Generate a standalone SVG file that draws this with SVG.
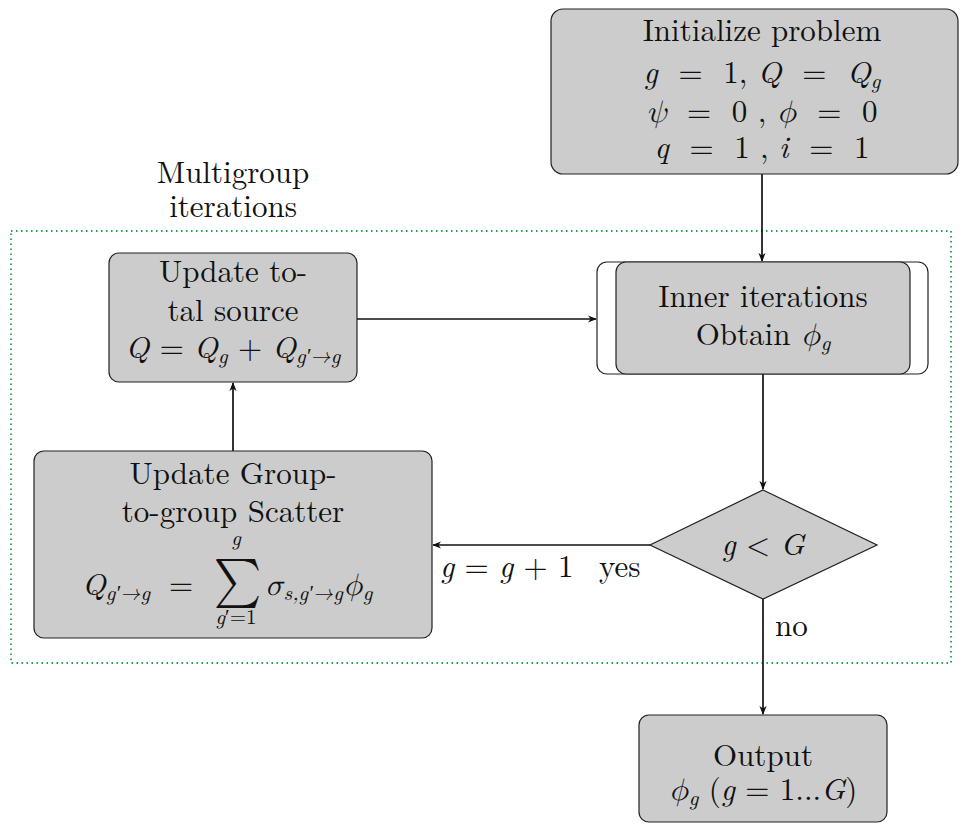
<svg xmlns="http://www.w3.org/2000/svg" width="964" height="825" viewBox="0 0 964 825" font-family="Latin Modern Roman, Liberation Serif, serif">
<defs>
<style>
.t{font-family:'Latin Modern Roman','Liberation Serif',serif;font-size:31px;fill:#111}
.m{text-anchor:middle}
.i{font-style:italic}
.gr{font-family:'Latin Modern Math','DejaVu Serif',serif;font-style:italic}
.s{font-size:21px;font-style:italic}
.sm{font-size:21px}
.box{fill:#cccccc;stroke:#222;stroke-width:1.2}
.c{fill:none;stroke:#111;stroke-width:1.7}
</style>
<marker id="ah" viewBox="0 0 10 10" refX="9" refY="5" markerWidth="9" markerHeight="9" orient="auto" markerUnits="userSpaceOnUse">
<path d="M0,1 L10,5 L0,9 L3,5 Z" fill="#111"/>
</marker>
</defs>
<rect x="0" y="0" width="964" height="825" fill="#fff"/>

<g id="multigroup">
<rect x="11" y="231" width="940" height="432" fill="none" stroke="#1aa352" stroke-width="1.8" stroke-dasharray="1.5,3.5"/>
<text class="t m" x="233" y="183">Multigroup</text>
<text class="t m" x="233" y="217">iterations</text>
</g>

<g id="connectors">
<line class="c" x1="762" y1="174" x2="762" y2="261" marker-end="url(#ah)"/>
<line class="c" x1="357" y1="319" x2="596" y2="319" marker-end="url(#ah)"/>
<line class="c" x1="763" y1="374" x2="763" y2="489" marker-end="url(#ah)"/>
<line class="c" x1="650" y1="545" x2="433" y2="545" marker-end="url(#ah)"/>
<line class="c" x1="233" y1="451" x2="233" y2="383" marker-end="url(#ah)"/>
<line class="c" x1="763" y1="599" x2="763" y2="714" marker-end="url(#ah)"/>
<text class="t" x="440" y="577"><tspan class="i">g</tspan> = <tspan class="i">g</tspan> + 1</text>
<text class="t" x="599" y="577">yes</text>
<text class="t" x="775" y="636">no</text>
</g>

<g id="init">
<rect class="box" x="551" y="9" width="407" height="165" rx="12"/>
<text class="t m" x="762" y="41">Initialize problem</text>
<text class="t m" x="762" y="83" xml:space="preserve"><tspan class="i">g</tspan>  =  1, <tspan class="i">Q</tspan>  =  <tspan class="i">Q</tspan><tspan class="s" dy="5">g</tspan></text>
<text class="t m" x="762" y="122" xml:space="preserve"><tspan class="gr">ψ</tspan>  =  0 , <tspan class="gr">ϕ</tspan>  =  0</text>
<text class="t m" x="762" y="158" xml:space="preserve"><tspan class="i">q</tspan>  =  1 , <tspan class="i">i</tspan>  =  1</text>
</g>

<g id="inner">
<rect x="597" y="262" width="331" height="112" rx="10" fill="#fff" stroke="#222" stroke-width="1.2"/>
<rect class="box" x="616" y="262" width="294" height="112" rx="10"/>
<text class="t m" x="763" y="307">Inner iterations</text>
<text class="t m" x="763" y="345">Obtain <tspan class="gr">ϕ</tspan><tspan class="s" dy="5">g</tspan></text>
</g>

<g id="total">
<rect class="box" x="109" y="253" width="248" height="129" rx="10"/>
<text class="t m" x="233" y="282">Update to-</text>
<text class="t m" x="233" y="321">tal source</text>
<text class="t m" x="233" y="358"><tspan class="i">Q</tspan> = <tspan class="i">Q</tspan><tspan class="s" dy="5">g</tspan><tspan dy="-5"> + </tspan><tspan class="i">Q</tspan><tspan class="s" dy="5">g′→g</tspan></text>
</g>

<g id="scatter">
<rect class="box" x="34" y="451" width="398" height="187" rx="10"/>
<text class="t m" x="233" y="484">Update Group-</text>
<text class="t m" x="233" y="522">to-group Scatter</text>
<text class="t" x="82" y="595"><tspan class="i">Q</tspan><tspan class="s" dy="5">g′→g</tspan></text>
<text class="t m" x="181" y="595">=</text>
<text class="t m gr" transform="translate(237.5,596) scale(0.92,1)" x="0" y="0" style="font-size:49px;font-style:normal">∑</text>
<text class="t m s" x="236" y="545">g</text>
<text class="t m sm" x="236" y="624"><tspan class="i">g</tspan>′=1</text>
<text class="t" x="265" y="595"><tspan class="gr">σ</tspan><tspan class="s" dy="5">s,g′→g</tspan><tspan class="gr" dy="-5">ϕ</tspan><tspan class="s" dy="5">g</tspan></text>
</g>

<g id="decision">
<polygon class="box" points="763,490 877,545 763,599 650,545"/>
<text class="t m" x="763" y="555"><tspan class="i">g</tspan> &lt; <tspan class="i">G</tspan></text>
</g>

<g id="output">
<rect class="box" x="639" y="715" width="248" height="107" rx="10"/>
<text class="t m" x="763" y="766">Output</text>
<text class="t m" x="763" y="800" xml:space="preserve"><tspan class="gr">ϕ</tspan><tspan class="s" dy="5">g</tspan><tspan dy="-5"> (</tspan><tspan class="i">g</tspan> = 1...<tspan class="i">G</tspan>)</text>
</g>
</svg>
